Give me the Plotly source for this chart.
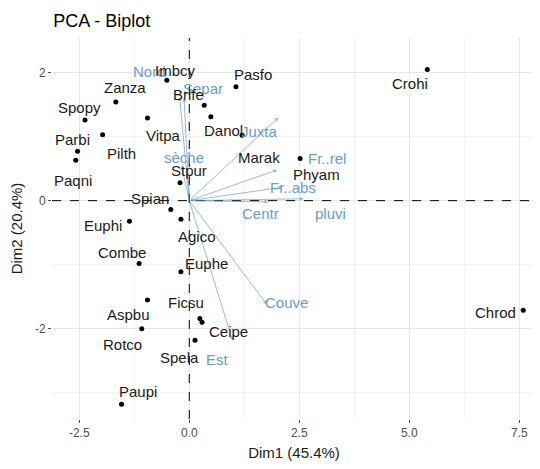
import plotly.graph_objects as go

# ---------------- data ----------------
ind_names = ["Imbcy", "Zanza", "Brife", "Pasfo", "Spopy", "Vitpa", "Danol", "Marak",
             "Parbi", "Pilth", "Paqni", "Stpur", "Spian", "Euphi", "Combe", "Agico",
             "Euphe", "Ficsu", "Aspbu", "Rotco", "Ceipe", "Spela", "Paupi", "Crohi",
             "Phyam", "Chrod"]
ind_x = [-0.51, -1.67, 0.34, 1.06, -2.37, -0.95, 0.49, 1.20,
         -2.54, -1.97, -2.58, -0.21, -0.42, -1.36, -1.14, -0.19,
         -0.19, 0.24, -0.95, -1.08, 0.29, 0.13, -1.54, 5.41,
         2.52, 7.59]
ind_y = [1.88, 1.54, 1.49, 1.78, 1.26, 1.29, 1.31, 1.02,
         0.77, 1.03, 0.63, 0.28, -0.14, -0.32, -0.98, -0.29,
         -1.11, -1.84, -1.55, -2.00, -1.90, -2.18, -3.18, 2.05,
         0.66, -1.71]

var_names = ["Nord", "Separ", "sèche", "Juxta", "Fr..rel", "Fr..abs", "pluvi", "Centr", "Couve", "Est"]
var_x = [-0.22, -0.12, -0.18, 2.03, 2.00, 2.12, 2.60, 1.80, 1.76, 0.98]
var_y = [1.62, 1.60, 0.55, 1.30, 0.48, 0.21, 0.03, -0.02, -1.62, -2.18]

x_ticks = [-2.5, 0.0, 2.5, 5.0, 7.5]
y_ticks = [-2, 0, 2]

# ---------------- label placement (pixels, label centre relative to mark) ----------------
ind_offsets = {
    "Imbcy": (9, -10), "Zanza": (9, -15), "Brife": (-16, -11), "Pasfo": (17, -12),
    "Spopy": (-6, -12), "Vitpa": (16, 17), "Danol": (13, 14), "Marak": (17, 22),
    "Parbi": (-5, -12), "Pilth": (19, 19), "Paqni": (-3, 20), "Stpur": (9, -12),
    "Spian": (-21, -11), "Euphi": (-26, 4), "Combe": (-17, -11), "Agico": (16, 17),
    "Euphe": (26, -8), "Ficsu": (-14, -16), "Aspbu": (-19, 15), "Rotco": (-19, 16),
    "Ceipe": (26, 9), "Spela": (-16, 17), "Paupi": (16, -13), "Crohi": (-17, 14),
    "Phyam": (16, 16), "Chrod": (-28, 2),
}
var_offsets = {
    "Nord": (-30, -25), "Separ": (19, -10), "sèche": (3, -8), "Juxta": (-19, 14),
    "Fr..rel": (50, -11), "Fr..abs": (10, 0), "pluvi": (27, 15), "Centr": (-8, 12),
    "Couve": (20, -2), "Est": (-15, 19),
}

FONT = "Liberation Sans, Arial, sans-serif"
VAR_COL = "#6a9bc9"
ARROW_COL = "rgba(70,130,180,0.55)"

fig = go.Figure()

fig.add_trace(go.Scatter(
    x=ind_x, y=ind_y, mode="markers",
    marker=dict(color="black", size=5),
    hoverinfo="text", text=ind_names, showlegend=False,
))

annotations = []
for n, vx, vy in zip(var_names, var_x, var_y):
    annotations.append(dict(
        x=vx, y=vy, ax=0, ay=0, xref="x", yref="y", axref="x", ayref="y",
        text="", showarrow=True, arrowhead=2, arrowsize=0.8, arrowwidth=1,
        arrowcolor=ARROW_COL,
    ))
for n, vx, vy in zip(var_names, var_x, var_y):
    dx, dy = var_offsets[n]
    annotations.append(dict(
        x=vx, y=vy, xref="x", yref="y", text=n, showarrow=False,
        xshift=dx, yshift=-dy, font=dict(family=FONT, size=15, color=VAR_COL),
    ))
for n, px, py in zip(ind_names, ind_x, ind_y):
    dx, dy = ind_offsets[n]
    annotations.append(dict(
        x=px, y=py, xref="x", yref="y", text=n, showarrow=False,
        xshift=dx, yshift=-dy, font=dict(family=FONT, size=15, color="#1a1a1a"),
    ))

shapes = [
    dict(type="line", xref="paper", yref="y", x0=0, x1=1, y0=0, y1=0,
         line=dict(color="black", width=1, dash="dash")),
    dict(type="line", xref="x", yref="paper", x0=0, x1=0, y0=0, y1=1,
         line=dict(color="black", width=1, dash="dash")),
]

# the page body adds an 8px offset, so the figure is 8px smaller than the window
fig.update_layout(
    width=532, height=461,
    margin=dict(l=44, r=4, t=30, b=50, autoexpand=False),
    paper_bgcolor="white", plot_bgcolor="white",
    font=dict(family=FONT, color="#333333"),
    title=dict(text="PCA - Biplot", x=0.085, xanchor="left", y=0.972, yanchor="middle",
               font=dict(family=FONT, size=18, color="black")),
    annotations=annotations, shapes=shapes,
    xaxis=dict(
        range=[-3.12, 7.88], tickvals=x_ticks, ticktext=[f"{v:.1f}" for v in x_ticks],
        showgrid=True, gridcolor="#e6e6e6", gridwidth=1, zeroline=False, automargin=False,
        minor=dict(dtick=1.25, tick0=0, showgrid=True, gridcolor="#f3f3f3", gridwidth=1),
        ticks="outside", ticklen=3, tickcolor="#4d4d4d", showline=False,
        tickfont=dict(family=FONT, size=12, color="#4d4d4d"),
        title=dict(text="Dim1 (45.4%)", font=dict(family=FONT, size=15, color="#1a1a1a"), standoff=8),
    ),
    yaxis=dict(
        range=[-3.41, 2.54], tickvals=y_ticks, ticktext=[str(v) for v in y_ticks],
        showgrid=True, gridcolor="#e6e6e6", gridwidth=1, zeroline=False, automargin=False,
        minor=dict(dtick=1, tick0=0, showgrid=True, gridcolor="#f3f3f3", gridwidth=1),
        ticks="outside", ticklen=3, tickcolor="#4d4d4d", showline=False,
        tickfont=dict(family=FONT, size=12, color="#4d4d4d"),
        title=dict(text="Dim2 (20.4%)", font=dict(family=FONT, size=15, color="#1a1a1a"), standoff=8),
    ),
)

fig.write_html("out.html")
